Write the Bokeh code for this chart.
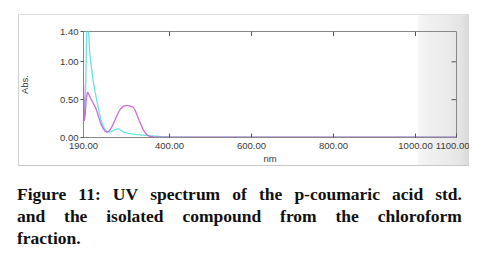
from bokeh.plotting import figure
from bokeh.models import Range1d, FixedTicker, NumeralTickFormatter, Div
from bokeh.layouts import column
from bokeh.embed import file_html
from bokeh.resources import INLINE

# Isolated compound (cyan)
nm_iso = [190, 193, 195, 197, 199, 201, 203, 205, 208, 211, 214, 217, 221, 225, 229, 233,
          237, 241, 245, 249, 254, 258, 263, 268, 273, 278, 283, 288, 295, 302, 312, 322,
          332, 343, 360, 380, 400, 450, 600, 800, 1000, 1100]
abs_iso = [0.55, 0.30, 0.60, 1.20, 1.60, 1.60, 1.35, 1.13, 0.98, 0.86, 0.74, 0.64, 0.53, 0.42, 0.32, 0.22,
           0.16, 0.12, 0.09, 0.075, 0.07, 0.08, 0.09, 0.105, 0.115, 0.11, 0.09, 0.07, 0.06, 0.05, 0.045, 0.038,
           0.033, 0.028, 0.02, 0.012, 0.008, 0.004, 0.003, 0.003, 0.003, 0.003]

# p-coumaric acid std. (magenta)
nm_std = [190, 191, 192, 194, 197, 200, 203, 207, 211, 215, 219, 223, 227, 231, 235, 239, 243,
          247, 251, 256, 261, 266, 271, 276, 281, 286, 292, 300, 306, 311, 316, 321, 326, 331,
          336, 341, 346, 352, 360, 400, 600, 800, 1000, 1100]
abs_std = [0.70, 0.45, 0.22, 0.30, 0.52, 0.60, 0.57, 0.52, 0.48, 0.44, 0.40, 0.34, 0.27, 0.20, 0.15, 0.11, 0.08,
           0.07, 0.08, 0.11, 0.16, 0.22, 0.28, 0.34, 0.38, 0.41, 0.42, 0.42, 0.41, 0.40, 0.36, 0.29, 0.22, 0.16,
           0.10, 0.06, 0.03, 0.015, 0.008, 0.005, 0.004, 0.004, 0.004, 0.004]

x_ticks = [190, 400, 600, 800, 1000, 1100]
x_ticks_top = [400, 600, 800, 1000]
y_ticks = [0.0, 0.5, 1.0, 1.4]
y_ticks_right = [0.5, 1.0]

caption_lines = [
    "Figure 11: UV spectrum of the p-coumaric acid std.",
    "and the isolated compound from the chloroform",
    "fraction.",
]

FONT = "Liberation Sans"
AX = "#888888"
TXT = "#3a3a3a"
TICK = "#555555"
FS = "9.5px"

X0, X1 = 190, 1100
Y0, Y1 = 0.0, 1.4

p = figure(width=469, height=168, x_range=Range1d(X0, X1), y_range=Range1d(Y0, Y1),
           output_backend="svg", toolbar_location=None,
           min_border_left=83, min_border_right=13, min_border_top=31, min_border_bottom=31)
p.grid.visible = False
p.outline_line_color = AX
p.background_fill_color = None
p.border_fill_color = None
# screenshot-window frame behind the chart (light border + grey band on the right)
p.styles = {
    "background": ", ".join([
        "linear-gradient(#dedede,#dedede) 18px 14px / 451px 1px no-repeat",
        "linear-gradient(#d2d2d2,#d2d2d2) 18px 14px / 1px 152px no-repeat",
        "linear-gradient(#c8c8c8,#c8c8c8) 18px 165px / 451px 1px no-repeat",
        "linear-gradient(to right, #f6f6f6 0%, #f0f0f0 25%, #ebebeb 60%, #e3e3e3 85%, #d9d9d9 100%) 418px 14px / 51px 152px no-repeat",
        "#ffffff",
    ]),
}

xa = p.xaxis[0]
xa.ticker = FixedTicker(ticks=x_ticks)
xa.formatter = NumeralTickFormatter(format="0.00")
xa.major_tick_in = 4
xa.major_tick_out = 0
xa.minor_tick_line_color = None
xa.axis_line_color = AX
xa.major_tick_line_color = TICK
xa.major_label_text_font = FONT
xa.major_label_text_font_size = FS
xa.major_label_text_color = TXT
xa.major_label_standoff = 5
xa.axis_label = "nm"
xa.axis_label_text_font = FONT
xa.axis_label_text_font_size = FS
xa.axis_label_text_font_style = "normal"
xa.axis_label_text_color = TXT
xa.axis_label_standoff = 1

ya = p.yaxis[0]
ya.ticker = FixedTicker(ticks=y_ticks)
ya.formatter = NumeralTickFormatter(format="0.00")
ya.major_tick_in = 0
ya.major_tick_out = 3
ya.minor_tick_line_color = None
ya.axis_line_color = AX
ya.major_tick_line_color = TICK
ya.major_label_text_font = FONT
ya.major_label_text_font_size = FS
ya.major_label_text_color = TXT
ya.major_label_standoff = 2
ya.axis_label = "Abs."
ya.axis_label_text_font = FONT
ya.axis_label_text_font_size = FS
ya.axis_label_text_font_style = "normal"
ya.axis_label_text_color = TXT
ya.axis_label_standoff = 27

# inward ticks on the top and right frame edges
tick_len_y = 0.06   # ~4.5 px in data units
tick_len_x = 12     # ~5 px in data units
p.segment(x0=x_ticks_top, y0=[Y1] * len(x_ticks_top), x1=x_ticks_top,
          y1=[Y1 - tick_len_y] * len(x_ticks_top), line_color=TICK, line_width=1)
p.segment(x0=[X1] * len(y_ticks_right), y0=y_ticks_right, x1=[X1 - tick_len_x] * len(y_ticks_right),
          y1=y_ticks_right, line_color=TICK, line_width=1)

p.line(nm_iso, abs_iso, line_color="#6ae4e0", line_width=1.3)
p.line(nm_std, abs_std, line_color="#c96fd6", line_width=1.3)

line_html = []
for i, ln in enumerate(caption_lines):
    words = ln.split(" ")
    spans = "".join(f"<span>{w}</span>" for w in words)
    if i < len(caption_lines) - 1:
        line_html.append(f'<div style="display:flex;justify-content:space-between;column-gap:4px;height:22px;line-height:22px;white-space:nowrap;">{spans}</div>')
    else:
        line_html.append(f'<div style="display:flex;column-gap:5px;height:22px;line-height:22px;white-space:nowrap;">{spans}</div>')

cap_html = ('<div style="width:445px;font-family:\'Liberation Serif\',serif;font-weight:bold;'
            'font-size:17.5px;color:#111111;">' + "".join(line_html) + '</div>')
cap = Div(text=cap_html, width=445, height=68, margin=(15, 0, 0, 17))

layout = column(p, cap)
open("out.html", "w").write(file_html(layout, INLINE))
